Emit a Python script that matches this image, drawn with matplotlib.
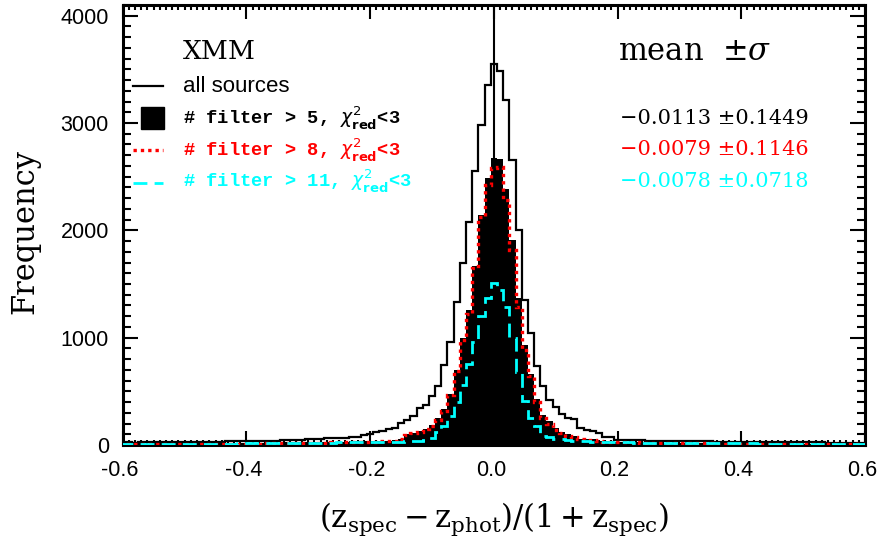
import numpy as np
import matplotlib
matplotlib.use("Agg")
import matplotlib.pyplot as plt
import matplotlib.transforms as mtransforms
from matplotlib.ticker import MultipleLocator, FormatStrFormatter
from matplotlib.lines import Line2D
from matplotlib.patches import Rectangle

plt.rcParams["axes.unicode_minus"] = False

# ---------------- data ----------------
bin_width = 0.01
bin_index = np.arange(-60, 61)          # bins centred on -0.60 ... 0.60

all_sources = [
    22, 24, 23, 25, 26, 24, 27, 26, 28, 27,
    29, 28, 30, 31, 30, 32, 31, 33, 34, 33,
    35, 36, 37, 38, 40, 41, 43, 44, 46, 48,
    56, 58, 60, 62, 64, 66, 68, 70, 76, 93,
    102, 118, 133, 145, 156, 202, 233, 266, 345, 375,
    458, 552, 748, 960, 1328, 1693, 2075, 2550, 2982, 3355,
    3548,
    3482, 3210, 2660, 2000, 1351, 1040, 732, 546, 422, 350,
    290, 250, 238, 160, 135, 130, 110, 78, 72, 50,
    47, 45, 43, 42, 40, 39, 38, 38, 37, 36,
    36, 35, 34, 34, 33, 32, 32, 31, 30, 30,
    29, 29, 28, 28, 27, 27, 26, 26, 25, 25,
    25, 24, 24, 23, 23, 23, 22, 22, 22, 21,
]

filter_gt5 = [
    12, 13, 12, 14, 13, 14, 15, 14, 15, 16,
    15, 16, 17, 16, 17, 18, 17, 18, 19, 19,
    20, 20, 21, 22, 22, 23, 24, 25, 26, 27,
    28, 28, 29, 30, 30, 31, 32, 33, 34, 35,
    36, 37, 38, 40, 42, 60, 98, 115, 130, 152,
    190, 250, 335, 478, 700, 997, 1260, 1668, 2144, 2484,
    2675,
    2662, 2386, 1910, 1365, 935, 665, 430, 283, 220, 156,
    120, 98, 85, 60, 55, 52, 40, 36, 34, 32,
    30, 29, 28, 27, 26, 25, 24, 23, 22, 21,
    21, 20, 20, 19, 19, 18, 18, 17, 17, 16,
    16, 16, 15, 15, 15, 14, 14, 14, 13, 13,
    13, 13, 12, 12, 12, 12, 11, 11, 11, 11,
]

filter_gt8 = [
    6, 7, 6, 7, 7, 8, 7, 8, 8, 9,
    8, 9, 9, 10, 9, 10, 11, 10, 11, 12,
    12, 13, 13, 14, 15, 15, 16, 17, 18, 19,
    20, 21, 22, 23, 24, 25, 26, 28, 29, 30,
    31, 32, 33, 35, 38, 55, 92, 108, 122, 145,
    180, 235, 320, 462, 687, 975, 1225, 1650, 2128, 2423,
    2578,
    2590, 2283, 1817, 1290, 885, 640, 405, 250, 195, 142,
    112, 85, 70, 55, 50, 45, 36, 32, 30, 28,
    26, 25, 24, 23, 22, 21, 20, 19, 18, 17,
    16, 15, 15, 14, 14, 13, 13, 12, 12, 11,
    11, 10, 10, 10, 9, 9, 9, 8, 8, 8,
    7, 7, 7, 7, 6, 6, 6, 6, 5, 5,
]

filter_gt11 = [
    8, 9, 8, 9, 9, 10, 9, 10, 10, 11,
    10, 11, 11, 12, 11, 12, 13, 12, 13, 14,
    14, 15, 15, 16, 16, 17, 18, 18, 19, 20,
    20, 21, 22, 22, 23, 24, 25, 26, 27, 28,
    28, 29, 30, 30, 31, 32, 33, 35, 40, 47,
    62, 121, 175, 268, 396, 562, 750, 963, 1198, 1368,
    1505,
    1448, 1290, 997, 678, 410, 250, 180, 85, 72, 60,
    52, 45, 40, 36, 33, 31, 30, 28, 27, 26,
    25, 24, 23, 22, 22, 21, 20, 20, 19, 19,
    18, 18, 17, 17, 16, 16, 15, 15, 15, 14,
    14, 14, 13, 13, 13, 12, 12, 12, 11, 11,
    11, 11, 10, 10, 10, 10, 9, 9, 9, 9,
]

legend_labels = ["all sources",
                 r"# filter > 5, $\chi^2_{\mathbf{red}}$<3",
                 r"# filter > 8, $\chi^2_{\mathbf{red}}$<3",
                 r"# filter > 11, $\chi^2_{\mathbf{red}}$<3"]
stat_means = ["\u22120.0113", "\u22120.0079", "\u22120.0078"]
stat_sigmas = ["\u00b10.1449", "\u00b10.1146", "\u00b10.0718"]
series_colors = ["black", "red", "#00FFFF"]

# ---------------- plot ----------------
fig = plt.figure(figsize=(8.78, 5.41), dpi=100)
ax = fig.add_axes([0.1398, 0.1775, 0.8454, 0.8133])

centers = bin_index * bin_width
edges = np.append(centers - bin_width / 2, centers[-1] + bin_width / 2)

ax.stairs(all_sources, edges, color="black", lw=1.6, zorder=2)
ax.axvline(0.0, color="black", lw=1.5, zorder=2.5)
ax.stairs(filter_gt5, edges, fill=True, color="black", zorder=3)
ax.stairs(filter_gt8, edges, color="red", lw=2.4, linestyle=(0, (1, 1.2)), zorder=4)
ax.stairs(filter_gt11, edges, color="#00FFFF", lw=2.0, linestyle=(0, (5.0, 2.6)), zorder=5)

ax.set_xlim(-0.6, 0.6)
ax.set_ylim(0, 4100)
ax.xaxis.set_major_locator(MultipleLocator(0.2))
ax.xaxis.set_minor_locator(MultipleLocator(0.01))
ax.yaxis.set_major_locator(MultipleLocator(1000))
ax.yaxis.set_minor_locator(MultipleLocator(100))
ax.xaxis.set_major_formatter(FormatStrFormatter("%.1f"))
ax.yaxis.set_major_formatter(FormatStrFormatter("%d"))

for s in ax.spines.values():
    s.set_linewidth(2.2)
ax.tick_params(which="both", direction="in", top=True, right=True, width=1.5)
ax.tick_params(axis="x", which="major", length=10, pad=11)
ax.tick_params(axis="x", which="minor", length=3.8)
ax.tick_params(axis="y", which="major", length=11, pad=10)
ax.tick_params(axis="y", which="minor", length=5.8)
shift = mtransforms.ScaledTranslation(-3 / 100, 0, fig.dpi_scale_trans)
for lab in ax.get_xticklabels():
    lab.set_transform(lab.get_transform() + shift)
for lab in ax.get_xticklabels() + ax.get_yticklabels():
    lab.set_fontfamily("Liberation Sans")
    lab.set_fontsize(15.5)

ax.set_xlabel(r"$(\mathrm{z_{spec}}-\mathrm{z_{phot}})/(1+\mathrm{z_{spec}})$",
              fontsize=22, math_fontfamily="dejavuserif", labelpad=14)
ax.set_ylabel("Frequency", fontfamily="DejaVu Serif", fontsize=22)
ax.yaxis.set_label_coords(-0.111, 0.485)

# ---------------- legend block ----------------
ax.text(0.0812, 0.877, "XMM", transform=ax.transAxes, fontfamily="DejaVu Serif",
        fontsize=19, va="baseline", ha="left")
ax.text(0.667, 0.875, r"mean  $\pm\sigma$", transform=ax.transAxes,
        fontfamily="DejaVu Serif", math_fontfamily="dejavuserif",
        fontsize=22, va="baseline", ha="left")

hx0, hx1 = 0.0139, 0.0543
ax.add_line(Line2D([hx0, hx1], [0.8166, 0.8166], transform=ax.transAxes,
                   color="black", lw=1.6))
ax.add_patch(Rectangle((0.0247, 0.7182), 0.0309, 0.05, transform=ax.transAxes,
                       facecolor="black", edgecolor="black"))
ax.add_line(Line2D([hx0, hx1], [0.6705, 0.6705], transform=ax.transAxes,
                   color="red", lw=2.4, linestyle=(0, (1, 1.2))))
ax.add_line(Line2D([hx0, hx1], [0.596, 0.596], transform=ax.transAxes,
                   color="#00FFFF", lw=2.0, linestyle=(0, (5.0, 2.6))))

ax.text(0.0812, 0.803, legend_labels[0], transform=ax.transAxes,
        fontfamily="Liberation Sans", fontsize=16, va="baseline", ha="left")
row_y = [0.7295, 0.659, 0.587]
for i in range(3):
    ax.text(0.0812, row_y[i], legend_labels[i + 1], transform=ax.transAxes,
            fontfamily="Liberation Mono", fontweight="bold",
            math_fontfamily="dejavusans",
            fontsize=13.5, color=series_colors[i], va="baseline", ha="left")
    ax.text(0.670, row_y[i], stat_means[i] + " " + stat_sigmas[i],
            transform=ax.transAxes, fontfamily="DejaVu Serif", fontsize=15,
            color=series_colors[i], va="baseline", ha="left")

fig.savefig("out.png", dpi=100)
